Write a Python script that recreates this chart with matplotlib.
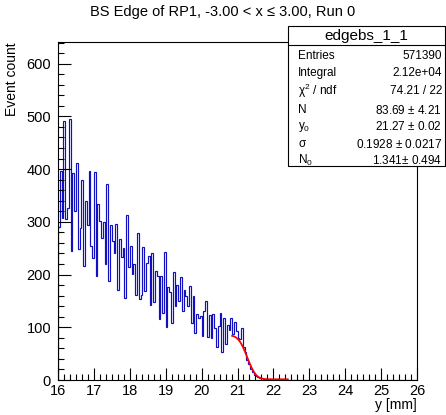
import math

import numpy as np
import matplotlib
matplotlib.use("Agg")
import matplotlib.pyplot as plt
from matplotlib.ticker import MultipleLocator

plt.rcParams['font.family'] = ['Liberation Sans', 'DejaVu Sans']
plt.rcParams['mathtext.fontset'] = 'custom'
plt.rcParams['mathtext.rm'] = 'Liberation Sans'
plt.rcParams['mathtext.it'] = 'Liberation Sans'

# histogram: 0.05 mm bins from 16 to 26
x_lo = 16.0
x_hi = 26.0
bin_width = 0.05

counts = [
    290, 397, 308, 492, 305, 327, 495, 245, 392, 321, 411, 248, 289, 380, 216, 340, 294, 397, 254, 232,
    395, 197, 333, 302, 270, 299, 220, 372, 188, 294, 263, 240, 296, 171, 267, 234, 251, 156, 312, 214,
    255, 201, 220, 161, 278,
    153, 162, 253, 168, 221, 236, 143, 240, 147, 206, 198, 115, 198, 128, 243, 100, 177, 166, 109, 204,
    140, 181, 150, 195, 130, 170, 160,
    141, 179, 109, 160, 90, 126, 117, 121, 83, 130, 150, 81, 124, 79, 126, 98, 62, 102, 128, 53,
    117, 68, 104, 95, 117, 88, 110, 92,
    80, 78, 98, 62, 53, 38, 30, 20, 15, 10, 8, 6, 4, 3, 2, 2, 1, 1, 1, 0,
]

# fit parameters (erfc edge + constant)
fit_N = 83.69
fit_y0 = 21.27
fit_sigma = 0.1928
fit_N0 = 1.341
fit_range = (20.85, 22.4)

stat_names = ["Entries", "Integral", r"$\chi^{2}$ / ndf", "N", r"y$_{0}$", r"$\sigma$", r"N$_{0}$"]
stat_values = ["571390", "2.12e+04", "74.21 / 22", "83.69 $\\pm$ 4.21", "21.27 $\\pm$ 0.02",
               "0.1928 $\\pm$ 0.0217", "1.341$\\pm$ 0.494"]

n_bins = int(round((x_hi - x_lo) / bin_width))
edges = x_lo + bin_width * np.arange(n_bins + 1)
values = np.zeros(n_bins)
values[:len(counts)] = counts

fig = plt.figure(figsize=(4.46, 4.15), dpi=100)
ax = fig.add_axes([58 / 446, 1 - 380 / 415, (417 - 58) / 446, (380 - 42) / 415])

ax.stairs(values, edges, color='#1010c0', linewidth=0.85)

fx = np.linspace(fit_range[0], fit_range[1], 200)
fy = [fit_N * 0.5 * math.erfc((v - fit_y0) / (math.sqrt(2) * fit_sigma)) + fit_N0 for v in fx]
ax.plot(fx, fy, color='#ff0000', linewidth=1.3)

ax.set_xlim(x_lo, x_hi)
ax.set_ylim(0, 641)

ax.xaxis.set_major_locator(MultipleLocator(1))
ax.xaxis.set_minor_locator(MultipleLocator(1 / 6))
ax.yaxis.set_major_locator(MultipleLocator(100))
ax.yaxis.set_minor_locator(MultipleLocator(20))
ax.tick_params(which='both', direction='in', top=False, right=False, labelsize=10.5, width=0.8)
ax.tick_params(which='major', length=9)
ax.tick_params(which='minor', length=4.5)
ax.tick_params(axis='x', pad=3)
ax.tick_params(axis='y', pad=5)
for s in ax.spines.values():
    s.set_linewidth(0.8)

ax.set_xlabel("y [mm]", fontsize=10, loc='right', labelpad=0)
ax.set_ylabel("Event count", fontsize=10, loc='top', labelpad=5)

fig.text(0.5, 1 - 12 / 415, "BS Edge of RP1, -3.00 < x \u2264 3.00, Run 0",
         ha='center', va='center', fontsize=10.5)

# stats box
bx0 = 288 / 446
bx1 = 445 / 446
by_top = 1 - 26 / 415
by_bot = 1 - 166 / 415
box = plt.Rectangle((bx0, by_bot), bx1 - bx0, by_top - by_bot, transform=fig.transFigure,
                    facecolor='white', edgecolor='black', linewidth=0.8, zorder=5)
fig.add_artist(box)
fig.add_artist(plt.Line2D([bx0, bx1], [1 - 45 / 415, 1 - 45 / 415], transform=fig.transFigure,
                          color='black', linewidth=0.8, zorder=6))
fig.text((bx0 + bx1) / 2, 1 - 36 / 415, "edgebs_1_1", ha='center', va='center', fontsize=11, zorder=7)

row_y = [56, 73, 91, 110, 127, 144, 160]
for name, val, ry in zip(stat_names, stat_values, row_y):
    fig.text(298 / 446, 1 - ry / 415, name, ha='left', va='center', fontsize=8.5, zorder=7)
    fig.text(442 / 446, 1 - ry / 415, val, ha='right', va='center', fontsize=8.5, zorder=7)

fig.savefig("out.png", dpi=100)
